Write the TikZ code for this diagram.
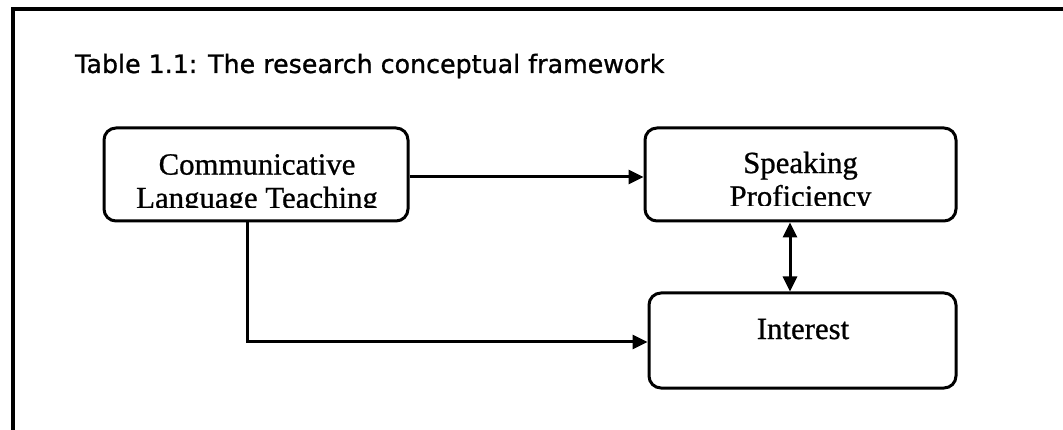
\documentclass[tikz,border=0pt]{standalone}
\usepackage{fontspec}
\setmainfont[FakeBold=0.8]{Liberation Serif}
\newfontfamily\titlefont[FakeBold=1]{DejaVu Sans}
\usetikzlibrary{arrows.meta}
\begin{document}
\begin{tikzpicture}[x=1pt,y=-1pt,
  box/.style={draw, line width=3pt, rounded corners=12pt, inner sep=0pt},
  lbl/.style={inner sep=0pt, align=center, font=\fontsize{30.8}{33.5}\selectfont},
  conn/.style={line width=3pt, -{Triangle[length=15pt,width=14pt]}},
  frame/.style={line width=3.2pt}]
\useasboundingbox (0,0) rectangle (1063,430);
% frame
\coordinate (fbl) at (13,445);
\coordinate (ftl) at (13,9);
\coordinate (ftr) at (1075,9);
\draw[frame] (fbl) -- (ftl) -- (ftr);
% title
\node[anchor=base west, inner sep=0pt, font=\titlefont\fontsize{25.3}{30}\selectfont] (title) at (75,73) {Table 1.1: The research conceptual framework};
% boxes
\node[box, minimum width=304pt, minimum height=93pt] (clt) at (256,174.5) {};
\node[box, minimum width=311pt, minimum height=93pt] (sp) at (800.5,174.5) {};
\node[box, minimum width=307pt, minimum height=95pt] (int) at (802.5,340.5) {};
% labels (clipped by the text frame, as in the original)
\begin{scope}
  \clip (100,130) rectangle (410,207.5);
  \node[lbl, anchor=north] (cltt) at (257,154) {Communicative\\Language Teaching};
\end{scope}
\begin{scope}
  \clip (645,130) rectangle (956,206);
  \node[lbl, anchor=north] (spt) at (800.5,151.5) {Speaking\\Proficiency};
\end{scope}
\node[lbl, anchor=base] (intt) at (803,339) {Interest};
% connectors
\draw[conn] (clt.east |- 0,177) -- (sp.west |- 0,177);
\coordinate (bend) at (247,342);
\draw[conn] (clt.south -| bend) -- (bend) -- (int.west |- bend);
\draw[conn, {Triangle[length=15pt,width=14pt]}-{Triangle[length=15pt,width=14pt]}] (sp.south -| 790,0) -- (int.north -| 790,0);
\end{tikzpicture}
\end{document}
